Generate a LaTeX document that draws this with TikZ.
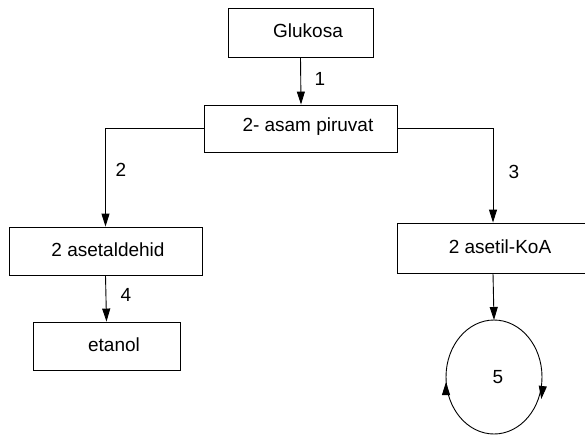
\documentclass[tikz,border=0pt]{standalone}
\usepackage{fontspec}
\setmainfont{Liberation Sans}
\usetikzlibrary{arrows.meta,shapes.geometric}
\begin{document}
\begin{tikzpicture}[x=1pt,y=-1pt,
  box/.style={draw,line width=0.9pt,inner sep=0pt},
  txt/.style={font=\fontsize{19}{22}\selectfont,inner sep=0pt},
  lbl/.style={font=\fontsize{19}{22}\selectfont,inner sep=0pt},
  arr/.style={line width=0.9pt,-{Triangle[length=13pt,width=8pt]}}]
\clip (0,0) rectangle (585,434);
\fill[white] (0,0) rectangle (585,434);
\node[box,minimum width=145pt,minimum height=49pt] (glu) at (300.5,32.5) {};
\node[txt] (tglu) at (308,31) {Glukosa};
\node[box,minimum width=193pt,minimum height=47pt] (pir) at (301,128.5) {};
\node[txt] (tpir) at (308,127) {2-\hspace{5pt}asam piruvat};
\node[box,minimum width=193pt,minimum height=48pt] (ald) at (105.5,251) {};
\node[txt] (tald) at (108,250) {2 asetaldehid};
\node[box,minimum width=147pt,minimum height=48pt] (eta) at (106.5,346) {};
\node[txt] (teta) at (114,345) {etanol};
\node[box,minimum width=192pt,minimum height=50pt] (koa) at (493,248) {};
\node[txt] (tkoa) at (500,247) {2 asetil-KoA};
\draw[line width=0.9pt] (494,377) ellipse [x radius=48, y radius=57];
\coordinate (cyc) at (494,320);
\node[lbl] (n5) at (498,377) {5};
\draw[arr] (glu.south) -- (pir.north);
\draw[arr] (pir.west) -| (ald.north);
\draw[arr] (pir.east) -| (koa.north);
\draw[arr] (ald.south) -- (eta.north);
\draw[arr] (koa.south) -- (cyc);
\draw[arr] (446,388) -- (446,382);
\draw[arr] (542,393) -- (541.3,399);
\node[lbl] (n1) at (320,79) {1};
\node[lbl] (n2) at (121,170) {2};
\node[lbl] (n3) at (514,172) {3};
\node[lbl] (n4) at (126,295) {4};
\end{tikzpicture}
\end{document}
